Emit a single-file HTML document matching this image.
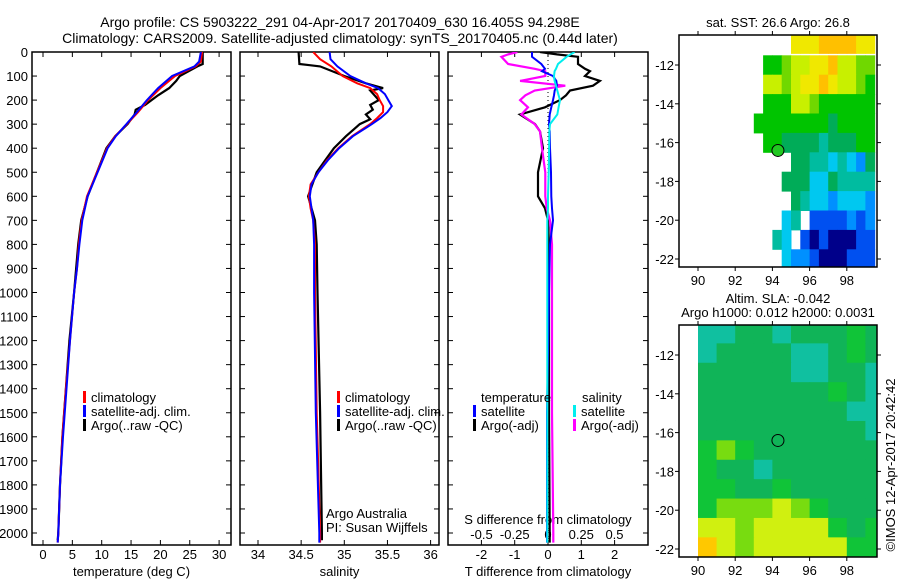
<!DOCTYPE html>
<html><head><meta charset="utf-8">
<style>
html,body{margin:0;padding:0;background:#fff;}
svg{display:block;font-family:"Liberation Sans",sans-serif;}
text{fill:#000;}
</style></head>
<body>
<svg id="fig" width="900" height="580" viewBox="0 0 900 580" xmlns="http://www.w3.org/2000/svg">
<defs>
<clipPath id="c1"><rect x="32" y="52" width="199" height="493"/></clipPath>
<clipPath id="c2"><rect x="240" y="52" width="199" height="493"/></clipPath>
<clipPath id="c3"><rect x="448" y="52" width="200" height="493"/></clipPath>
<clipPath id="m1"><rect x="679" y="35" width="198" height="232"/></clipPath>
<clipPath id="m2"><rect x="679" y="325" width="198" height="232"/></clipPath>
</defs>
<text x="340" y="27" font-size="14" text-anchor="middle">Argo profile: CS 5903222_291 04-Apr-2017 20170409_630 16.405S 94.298E</text>
<text x="340" y="43" font-size="14" text-anchor="middle">Climatology: CARS2009. Satellite-adjusted climatology: synTS_20170405.nc (0.44d later)</text>
<g id="g1"></g>
<g id="g2"></g>
<g id="g3"></g>
<g id="g4"></g>
<g id="g5"></g>
<text transform="translate(895,465) rotate(-90)" font-size="13" text-anchor="middle">©IMOS 12-Apr-2017 20:42:42</text>
</svg>
<script>
// ---- profile data ----
const tDepth=[0,40,60,100,150,200,250,300,350,400,500,600,700,800,900,1000,1200,1400,1600,1800,2000,2040];
const tClim=[27.1,26.9,26.0,22.5,20.0,17.9,16.2,14.3,12.3,10.9,9.2,7.5,6.6,6.1,5.8,5.3,4.6,3.9,3.3,2.9,2.6,2.5];
const tSat=[26.9,26.6,25.8,22.0,19.6,17.7,16.0,14.2,12.4,11.0,9.3,7.6,6.7,6.2,5.8,5.3,4.6,4.0,3.4,2.9,2.6,2.5];
const taDepth=[0,50,60,100,120,150,180,220,240,260,300,350,400,500,600,700,800,1000,1200,1400,1600,1800,2000,2030];
const tArgo=[27.2,27.2,26.3,23.3,22.7,21.5,19.6,17.4,15.8,15.6,14.4,12.3,10.8,9.2,7.6,6.5,6.0,5.3,4.5,3.9,3.3,2.9,2.6,2.5];
const sDepth=[0,30,60,100,130,150,175,200,225,250,275,300,350,400,450,500,550,600,650,700,800,1000,1500,2000,2040];
const sClim=[34.64,34.72,34.85,34.98,35.15,35.30,35.38,35.41,35.45,35.45,35.38,35.30,35.09,34.93,34.80,34.70,34.61,34.59,34.61,34.64,34.66,34.66,34.68,34.72,34.72];
const sSat=[34.83,34.84,34.92,35.07,35.25,35.39,35.47,35.51,35.55,35.50,35.42,35.32,35.10,34.94,34.81,34.70,34.62,34.60,34.62,34.64,34.65,34.65,34.67,34.71,34.71];
const saDepth=[0,50,55,60,100,130,145,150,160,180,200,220,240,260,280,300,350,400,450,500,600,700,800,1000,1500,2000,2030];
const sArgo=[34.47,34.48,34.60,34.72,35.0,35.25,35.40,35.45,35.30,35.35,35.40,35.30,35.33,35.25,35.30,35.18,35.02,34.88,34.78,34.68,34.58,34.66,34.68,34.69,34.72,34.74,34.74];
const dDepth=[0,10,20,50,70,80,100,120,140,160,180,200,230,260,300,330,400,500,600,650,700,800,1000,1500,2000,2040];
const dTArgo=[-0.24,0.27,0.9,0.9,1.11,1.26,1.11,1.56,1.35,0.66,0.54,0.36,-0.09,-0.84,-0.39,-0.24,-0.15,-0.3,-0.3,-0.09,0,0.03,0.03,0.03,0.05,0.05];
const dTSat=[-0.48,-0.48,-0.48,-0.2,-0.09,-0.18,0.15,0.25,0.27,0.2,0.18,0.15,0.1,0.05,0.03,0.05,0.06,0.09,0.1,0.12,0.15,0.06,0.03,-0.03,-0.03,-0.03];
const dSArgo=[-0.23,-0.3,-0.35,-0.3,-0.1,-0.02,-0.02,-0.21,0.13,-0.1,-0.17,-0.21,-0.15,-0.2,-0.1,-0.06,-0.045,-0.02,-0.02,-0.01,0.015,0.03,0.03,0.03,0.04,0.04];
const dSSat=[0.2,0.17,0.14,0.075,0.06,0.05,0.045,0.05,0.06,0.07,0.08,0.09,0.08,0.07,0.015,0.01,0.008,0.005,0,0,-0.005,-0.005,-0.005,-0.005,-0.005,-0.005];
const depthTicks=[0,100,200,300,400,500,600,700,800,900,1000,1100,1200,1300,1400,1500,1600,1700,1800,1900,2000];
const tTicks=[0,5,10,15,20,25,30];
const sTicks=[34,34.5,35,35.5,36];
const sTickLabels=["34","34.5","35","35.5","36"];
const dTTicks=[-2,-1,0,1,2];
const dSTicks=[-0.5,-0.25,0,0.25,0.5];
const dSTickLabels=["-0.5","-0.25","0","0.25","0.5"];
// ---- map data (colour level index, -1 = missing) ----
const sstLons=[93,93.5,94,94.5,95,95.5,96,96.5,97,97.5,98,98.5,99];
const sstLatTop=[-10.4,-11.5,-12.5,-13.5,-14.5,-15.5,-16.5,-17.5,-18.5,-19.5,-20.5,-21.5];
const sstLevels=[
[-1,-1,-1,-1,9,9,9,10,10,10,10,9,9],
[-1,6,6,7,8,8,9,9,10,8,8,7,7],
[-1,8,8,7,8,9,9,10,9,8,8,7,6],
[-1,6,6,6,8,8,7,6,6,6,6,6,6],
[6,6,6,6,6,6,6,6,5,6,6,6,6],
[-1,6,6,5,5,5,5,4,5,5,5,6,6],
[-1,-1,-1,-1,5,5,4,4,3,4,3,2,5],
[-1,-1,-1,5,5,5,3,3,5,4,4,4,4],
[-1,-1,-1,-1,5,4,3,3,2,3,3,3,2],
[-1,-1,-1,3,4,-1,1,1,1,1,2,1,2],
[-1,-1,4,3,-1,1,0,1,0,0,0,1,1],
[-1,-1,-1,3,2,2,1,0,0,0,1,1,1]];
const slaLons=[90,91,92,93,94,95,96,97,98,99];
const slaLatTop=[-10.4,-11.4,-12.4,-13.4,-14.4,-15.4,-16.4,-17.4,-18.4,-19.4,-20.4,-21.4];
const slaLevels=[
[4,4,5,5,4,5,5,5,6,5],
[4,5,5,5,5,4,4,5,6,5],
[5,5,5,5,5,4,4,5,5,4],
[5,5,5,5,5,5,5,6,5,4],
[5,5,5,5,5,5,5,5,4,4],
[5,5,5,5,5,5,5,5,5,4],
[6,7,6,5,5,5,5,5,5,5],
[6,5,5,4,5,5,5,5,5,5],
[6,6,5,5,6,5,5,5,5,5],
[6,7,7,7,8,7,6,5,5,5],
[8,8,7,8,8,8,8,6,5,6],
[10,8,7,8,8,8,8,8,6,6]];
const palette=["#00008a","#0050f0","#0090ff","#00c8f0","#00bca0","#00ac58","#00c400","#70d800","#c8f000","#f0e800","#ffc000"];
const slaPalette=["#00008a","#0050f0","#0090ff","#00c8f0","#10c0a0","#10b458","#10c438","#78dc10","#d0f010","#f0e800","#ffc800"];
const mapLonTicks=[90,92,94,96,98];
const mapLatTicks=[-12,-14,-16,-18,-20,-22];

const NS="http://www.w3.org/2000/svg";
function mk(tag,attrs,parent){const e=document.createElementNS(NS,tag);for(const k in attrs)e.setAttribute(k,attrs[k]);parent.appendChild(e);return e;}
const Y0=52,Y1=545;
const yD=d=>52+d*0.2405;
const xT=t=>43+t*5.87;
const xS=s=>258+(s-34)*86.3;
const xDT=d=>548+d*33.3;
const xDS=d=>548+d*133;

function frame(g,x0,x1,xt,xticks,labels,ly,title,showY){
  const r=mk('rect',{x:x0,y:Y0,width:x1-x0,height:Y1-Y0,fill:'none',stroke:'#000','stroke-width':1.5},g);
  
  
  depthTicks.forEach(d=>{
    const y=yD(d);
    mk('line',{x1:x0,x2:x0+5,y1:y,y2:y,stroke:'#000'},g);
    mk('line',{x1:x1-5,x2:x1,y1:y,y2:y,stroke:'#000'},g);
    if(showY){const t=mk('text',{x:28,y:y+5,'font-size':13,'text-anchor':'end'},g);t.textContent=d;
      
      }
  });
  xticks.forEach((v,i)=>{
    const x=xt(v);
    mk('line',{x1:x,x2:x,y1:Y1,y2:Y1-5,stroke:'#000'},g);
    mk('line',{x1:x,x2:x,y1:Y0,y2:Y0+5,stroke:'#000'},g);
    if(labels){const t=mk('text',{x:x,y:ly,'font-size':13,'text-anchor':'middle'},g);t.textContent=labels[i];
      
      }
  });
  if(title){const t=mk('text',{x:(x0+x1)/2,y:576,'font-size':13,'text-anchor':'middle'},g);t.textContent=title;
    
    }
}
function line(g,clip,ds,vs,xf,color,w,name){
  const p=mk('polyline',{points:ds.map((d,i)=>xf(vs[i]).toFixed(1)+','+yD(d).toFixed(1)).join(' '),fill:'none',stroke:color,'stroke-width':w,'clip-path':'url(#'+clip+')'},g);
  
  
}
function legend(g,x,y,color,label,name){
  mk('rect',{x:x,y:y-11,width:3,height:12,fill:color},g);
  const t=mk('text',{x:x+8,y:y,'font-size':13},g);t.textContent=label;
  
  
}
function txt(g,x,y,s,name,anchor){const t=mk('text',{x:x,y:y,'font-size':13,'text-anchor':anchor||'start'},g);t.textContent=s;
  
  return t;}

// panel 1
const g1=document.getElementById('g1');
frame(g1,32,231,xT,tTicks,tTicks.map(String),559,'temperature (deg C)',true);
line(g1,'c1',taDepth,tArgo,xT,'#000',2.2,'argo-temperature-line');
line(g1,'c1',tDepth,tClim,xT,'#f00',2,'climatology-temperature-line');
line(g1,'c1',tDepth,tSat,xT,'#00f',2,'satellite-temperature-line');
legend(g1,83,402,'#f00','climatology','legend-climatology');
legend(g1,83,416,'#00f','satellite-adj. clim.','legend-satellite');
legend(g1,83,430,'#000','Argo(..raw -QC)','legend-argo');

// panel 2
const g2=document.getElementById('g2');
frame(g2,240,439,xS,sTicks,sTickLabels,559,'salinity',false);
line(g2,'c2',saDepth,sArgo,xS,'#000',2.2,'argo-salinity-line');
line(g2,'c2',sDepth,sClim,xS,'#f00',2,'climatology-salinity-line');
line(g2,'c2',sDepth,sSat,xS,'#00f',2,'satellite-salinity-line');
legend(g2,337,402,'#f00','climatology','legend-climatology');
legend(g2,337,416,'#00f','satellite-adj. clim.','legend-satellite');
legend(g2,337,430,'#000','Argo(..raw -QC)','legend-argo');
txt(g2,326,518,'Argo Australia','argo-australia-label');
txt(g2,326,532,'PI: Susan Wijffels','pi-label');

// panel 3
const g3=document.getElementById('g3');
frame(g3,448,648,xDT,dTTicks,dTTicks.map(String),559,'T difference from climatology',false);
dSTicks.forEach((v,i)=>{const t=txt(g3,xDS(v),539,dSTickLabels[i],'s-diff-tick-label','middle');});
txt(g3,548,524,'S difference from climatology','s-diff-axis-title','middle');
mk('line',{x1:548,x2:548,y1:Y0,y2:Y1,stroke:'#000','stroke-dasharray':'1,3'},g3);
line(g3,'c3',dDepth,dTArgo,xDT,'#000',2.2,'argo-t-diff-line');
line(g3,'c3',dDepth,dSArgo,xDS,'#f0f',2.2,'argo-s-diff-line');
line(g3,'c3',dDepth,dTSat,xDT,'#00f',2,'satellite-t-diff-line');
line(g3,'c3',dDepth,dSSat,xDS,'#0ee',2,'satellite-s-diff-line');
txt(g3,481,402,'temperature','legend-temperature-header');
txt(g3,582,402,'salinity','legend-salinity-header');
legend(g3,473,416,'#00f','satellite','legend-t-satellite');
legend(g3,473,430,'#000','Argo(-adj)','legend-t-argo');
legend(g3,573,416,'#0ee','satellite','legend-s-satellite');
legend(g3,573,430,'#f0f','Argo(-adj)','legend-s-argo');

// maps
function mapAxes(g,x0,y0,x1,y1,lat12y,labY){
  const lx=lon=>698+(lon-90)*18.6;
  const ly=lat=>lat12y+(-12-lat)*19.4;
  mk('rect',{x:x0,y:y0,width:x1-x0,height:y1-y0,fill:'none',stroke:'#000','stroke-width':1.5},g);
  mapLonTicks.forEach(v=>{const x=lx(v);
    mk('line',{x1:x,x2:x,y1:y1,y2:y1+4,stroke:'#000'},g);
    mk('line',{x1:x,x2:x,y1:y0,y2:y0-4,stroke:'#000'},g);
    txt(g,x,labY,String(v),'lon-tick-label','middle');});
  mapLatTicks.forEach(v=>{const y=ly(v);
    mk('line',{x1:x0,x2:x0-4,y1:y,y2:y,stroke:'#000'},g);
    mk('line',{x1:x1,x2:x1+4,y1:y,y2:y,stroke:'#000'},g);
    txt(g,674,y+5,String(v),'lat-tick-label','end');});
  return {lx,ly};
}
const g4=document.getElementById('g4');
txt(g4,778,27,'sat. SST: 26.6 Argo: 26.8','sst-map-title','middle');
{const lx=lon=>698+(lon-90)*18.6, ly=lat=>65+(-12-lat)*19.4;
 sstLevels.forEach((row,r)=>row.forEach((lv,c)=>{ if(lv<0)return;
   const x=lx(sstLons[c]), y=ly(sstLatTop[r]);
   const e=mk('rect',{x:x,y:y,width:lx(sstLons[c]+0.5)-x+0.5,height:ly(sstLatTop[r]-1)-y+0.5,fill:palette[lv],'clip-path':'url(#m1)'},g4);
   
   
 }));
 const m=mk('circle',{cx:lx(94.298),cy:ly(-16.405),r:6,fill:'#22c822',stroke:'#000'},g4);
 
 
}
mapAxes(g4,679,35,877,267,65,285);

const g5=document.getElementById('g5');
txt(g5,778,303,'Altim. SLA: -0.042','sla-map-title','middle');
txt(g5,778,317,'Argo h1000: 0.012 h2000: 0.0031','argo-height-title','middle');
{const lx=lon=>698+(lon-90)*18.6, ly=lat=>355+(-12-lat)*19.4;
 slaLevels.forEach((row,r)=>row.forEach((lv,c)=>{
   const x=lx(slaLons[c]), y=ly(slaLatTop[r]);
   const e=mk('rect',{x:x,y:y,width:19.1,height:19.9,fill:slaPalette[lv],'clip-path':'url(#m2)'},g5);
   
   
 }));
 const m=mk('circle',{cx:lx(94.298),cy:ly(-16.405),r:6,fill:'none',stroke:'#000'},g5);
 
 
}
mapAxes(g5,679,325,877,557,355,575);
</script>
</body></html>
